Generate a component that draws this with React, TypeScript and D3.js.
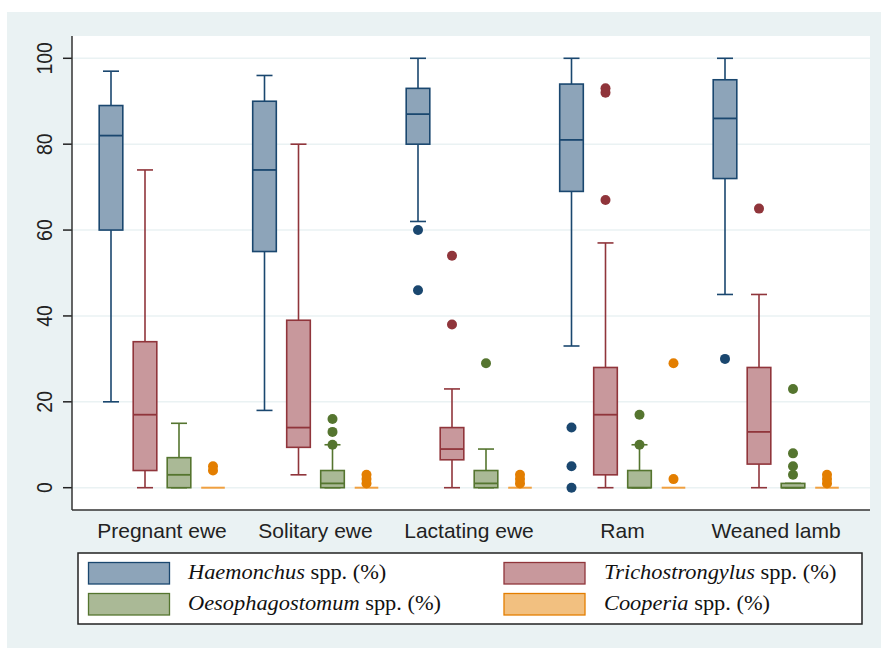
import React from 'react';
import * as d3 from 'd3';

const categories = ['Pregnant ewe', 'Solitary ewe', 'Lactating ewe', 'Ram', 'Weaned lamb'];
const seriesGenus = ['Haemonchus', 'Trichostrongylus', 'Oesophagostomum', 'Cooperia'];
const yTicks = [0, 20, 40, 60, 80, 100];

// [lower whisker, q1, median, q3, upper whisker] per category
const haemonchusStats = [[20, 60, 82, 89, 97], [18, 55, 74, 90, 96], [62, 80, 87, 93, 100], [33, 69, 81, 94, 100], [45, 72, 86, 95, 100]];
const haemonchusOutliers = [[], [], [60, 46], [14, 5, 0], [30]];
const trichoStats = [[0, 4, 17, 34, 74], [3, 9.4, 14, 39, 80], [0, 6.5, 9, 14, 23], [0, 3, 17, 28, 57], [0, 5.5, 13, 28, 45]];
const trichoOutliers = [[], [], [54, 38], [93, 92, 67], [65]];
const oesoStats = [[0, 0, 3, 7, 15], [0, 0, 1, 4, 10], [0, 0, 1, 4, 9], [0, 0, 0, 4, 10], [0, 0, 0, 1, 1]];
const oesoOutliers = [[], [10, 13, 16], [29], [10, 17], [3, 5, 8, 23]];
const cooperiaStats = [[0, 0, 0, 0, 0], [0, 0, 0, 0, 0], [0, 0, 0, 0, 0], [0, 0, 0, 0, 0], [0, 0, 0, 0, 0]];
const cooperiaOutliers = [[4, 5], [1, 2, 3], [1, 2, 3], [2, 29], [1, 2, 3]];

const allStats = [haemonchusStats, trichoStats, oesoStats, cooperiaStats];
const allOutliers = [haemonchusOutliers, trichoOutliers, oesoOutliers, cooperiaOutliers];

const strokeColors = ['#1a476f', '#90353b', '#55752f', '#e37e00'];
const fillColors = ['#8da4b9', '#c8989c', '#aab996', '#f2c080'];

const W = 881;
const H = 648;
const plotL = 72, plotR = 870, plotT = 36, plotB = 510;

export default function App() {
  const y = d3.scaleLinear().domain([0, 100]).range([487.7, 58.3]);
  const xGroup = d3.scaleBand<string>().domain(categories).range([85.25, 852.75]);
  const xSub = d3.scaleBand<string>().domain(seriesGenus).range([0, 136]);
  const groupPad = (xGroup.bandwidth() - 136) / 2;
  const boxHalf = 11.8;
  const capHalf = 8;
  const sans = 'Liberation Sans, Arial, sans-serif';
  const serif = 'Liberation Serif, Times New Roman, serif';

  const legendItems = [
    { i: 0, x: 88.5, y: 562.5, tx: 188, ty: 579 },
    { i: 1, x: 504, y: 562.5, tx: 604, ty: 579 },
    { i: 2, x: 88.5, y: 593.5, tx: 188, ty: 610 },
    { i: 3, x: 504, y: 593.5, tx: 604, ty: 610 },
  ];

  return (
    <svg width={W} height={H} style={{ position: 'absolute', left: 0, top: 0 }} xmlns="http://www.w3.org/2000/svg">
      <rect x={0} y={0} width={W} height={H} fill="#ffffff" />
      <rect x={7} y={12} width={W - 7} height={H - 12} fill="#eaf2f3" />
      <rect x={plotL} y={plotT} width={plotR - plotL} height={plotB - plotT} fill="#ffffff" />
      {yTicks.map((t) => (
        <g key={'g' + t}>
          <line x1={plotL} x2={plotR} y1={y(t)} y2={y(t)} stroke="#eaf2f3" strokeWidth={1.5} />
          <line x1={63} x2={plotL} y1={y(t)} y2={y(t)} stroke="#222" strokeWidth={1.5} />
          <text
            transform={`translate(52,${y(t)}) rotate(-90) scale(1,1.15)`}
            textAnchor="middle"
            fontFamily={sans}
            fontSize={19.5}
            fill="#222"
          >
            {t}
          </text>
        </g>
      ))}
      {categories.map((cat, ci) => {
        const g0 = (xGroup(cat) as number) + groupPad;
        return (
          <g key={cat}>
            {seriesGenus.map((s, si) => {
              const cx = g0 + (xSub(s) as number) + xSub.bandwidth() / 2;
              const [lo, q1, med, q3, hi] = allStats[si][ci];
              const sc = strokeColors[si];
              const isFlat = q3 - q1 === 0 && hi - lo === 0;
              return (
                <g key={s}>
                  {!isFlat && (
                    <>
                      <line x1={cx} x2={cx} y1={y(q3)} y2={y(hi)} stroke={sc} strokeWidth={1.6} />
                      <line x1={cx} x2={cx} y1={y(q1)} y2={y(lo)} stroke={sc} strokeWidth={1.6} />
                      <line x1={cx - capHalf} x2={cx + capHalf} y1={y(hi)} y2={y(hi)} stroke={sc} strokeWidth={1.6} />
                      <line x1={cx - capHalf} x2={cx + capHalf} y1={y(lo)} y2={y(lo)} stroke={sc} strokeWidth={1.6} />
                      <rect
                        x={cx - boxHalf}
                        y={y(q3)}
                        width={boxHalf * 2}
                        height={Math.max(y(q1) - y(q3), 0.5)}
                        fill={fillColors[si]}
                        stroke={sc}
                        strokeWidth={1.6}
                      />
                      <line x1={cx - boxHalf} x2={cx + boxHalf} y1={y(med)} y2={y(med)} stroke={sc} strokeWidth={1.8} />
                    </>
                  )}
                  {isFlat && (
                    <line x1={cx - boxHalf} x2={cx + boxHalf} y1={y(med)} y2={y(med)} stroke="#f0a040" strokeWidth={2} />
                  )}
                  {allOutliers[si][ci].map((v, k) => (
                    <circle key={k} cx={cx} cy={y(v)} r={5} fill={sc} />
                  ))}
                </g>
              );
            })}
            <text
              x={(xGroup(cat) as number) + xGroup.bandwidth() / 2}
              y={538}
              textAnchor="middle"
              fontFamily={sans}
              fontSize={21}
              fill="#222"
            >
              {cat}
            </text>
          </g>
        );
      })}
      <line x1={plotL} x2={plotL} y1={plotT} y2={plotB} stroke="#333" strokeWidth={1.5} />
      <line x1={plotL} x2={plotR} y1={plotB} y2={plotB} stroke="#333" strokeWidth={1.5} />

      <rect x={78} y={553} width={784} height={71} fill="#ffffff" stroke="#222" strokeWidth={1.5} />
      {legendItems.map((it) => (
        <g key={it.i}>
          <rect x={it.x} y={it.y} width={81} height={21.5} fill={fillColors[it.i]} stroke={strokeColors[it.i]} strokeWidth={1.3} />
          <text transform={`translate(${it.tx},${it.ty}) scale(1.12,1)`} fontFamily={serif} fontSize={20} fill="#111">
            <tspan fontStyle="italic">{seriesGenus[it.i]}</tspan>
            <tspan> spp. (%)</tspan>
          </text>
        </g>
      ))}
    </svg>
  );
}
